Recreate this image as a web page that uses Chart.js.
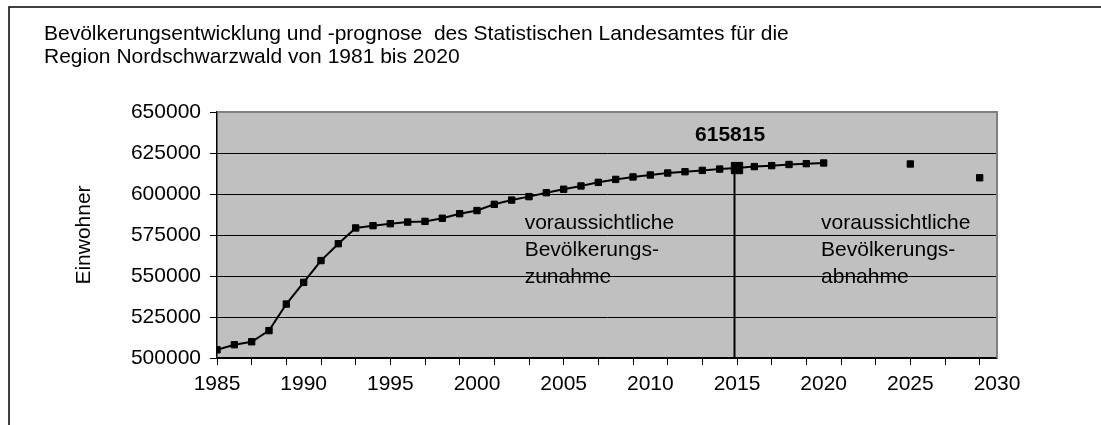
<!DOCTYPE html>
<html lang="de">
<head>
<meta charset="utf-8">
<title>Bevölkerungsentwicklung Nordschwarzwald</title>
<script src="https://cdn.jsdelivr.net/npm/chart.js@4.4.1/dist/chart.umd.min.js"></script>
<style>
    body { margin: 0; background: #fff; }
    #chart { display: block; }
</style>
</head>
<body>
<canvas id="chart" width="1101" height="425"></canvas>
<script>
// Einwohner Region Nordschwarzwald (1985-2020, jaehrlich)
const years = [1985, 1986, 1987, 1988, 1989, 1990, 1991, 1992, 1993, 1994,
    1995, 1996, 1997, 1998, 1999, 2000, 2001, 2002, 2003, 2004,
    2005, 2006, 2007, 2008, 2009, 2010, 2011, 2012, 2013, 2014,
    2015, 2016, 2017, 2018, 2019, 2020];
const residents = [505000, 508100, 509900, 516700, 532900, 546100, 559400, 569700, 579300, 580700,
    581900, 582900, 583300, 585200, 588000, 589900, 593700, 596300, 598400, 600800,
    602900, 604900, 607100, 608900, 610400, 611600, 612800, 613600, 614400, 615200,
    615815, 616700, 617300, 618000, 618500, 618900];

// einzelne Prognosewerte ohne Verbindungslinie
const forecastYears = [2025, 2029];
const forecastResidents = [618300, 609900];

const markedYear = 2015;
const markedValue = 615815;

const yTicks = [500000, 525000, 550000, 575000, 600000, 625000, 650000];
const xLabelStep = 5;

const titleLines = [
    'Bevölkerungsentwicklung und -prognose  des Statistischen Landesamtes für die',
    'Region Nordschwarzwald von 1981 bis 2020'
];
const noteLeft = ['voraussichtliche', 'Bevölkerungs-', 'zunahme'];
const noteRight = ['voraussichtliche', 'Bevölkerungs-', 'abnahme'];

const FONT = 'Arial, "Liberation Sans", sans-serif';

document.addEventListener('DOMContentLoaded', () => {
    drawChart();
});

function drawChart() {
    const mainPoints = years.map((y, i) => ({ x: y, y: residents[i] }));
    const forecastPoints = forecastYears.map((y, i) => ({ x: y, y: forecastResidents[i] }));

    // Hintergrund der Zeichenflaeche, Rahmen, Texte und Markierungslinie
    const decorations = {
        id: 'decorations',
        beforeDraw(chart) {
            const { ctx, chartArea: a } = chart;
            ctx.save();
            ctx.fillStyle = '#c0c0c0';
            ctx.fillRect(a.left, a.top, a.right - a.left, a.bottom - a.top);

            // aeusserer Rahmen (nur links und oben sichtbar)
            ctx.strokeStyle = '#000';
            ctx.lineWidth = 1.5;
            ctx.beginPath();
            ctx.moveTo(9, chart.height);
            ctx.lineTo(9, 7);
            ctx.lineTo(chart.width, 7);
            ctx.stroke();

            ctx.fillStyle = '#000';
            ctx.font = '21px ' + FONT;
            ctx.textAlign = 'left';
            ctx.textBaseline = 'alphabetic';
            ctx.fillText(titleLines[0], 44, 40);
            ctx.fillText(titleLines[1], 44, 63);
            ctx.restore();
        },
        afterDatasetsDraw(chart) {
            const { ctx, chartArea: a } = chart;
            const xs = chart.scales.x;
            const ys = chart.scales.y;
            ctx.save();

            // Rahmen oben und rechts
            ctx.strokeStyle = '#808080';
            ctx.lineWidth = 2;
            ctx.beginPath();
            ctx.moveTo(a.left, a.top);
            ctx.lineTo(a.right, a.top);
            ctx.lineTo(a.right, a.bottom);
            ctx.stroke();

            // senkrechte Linie beim Jahr 2015
            const mx = Math.round(xs.getPixelForValue(markedYear)) - 2.5;
            ctx.strokeStyle = '#000';
            ctx.lineWidth = 2;
            ctx.beginPath();
            ctx.moveTo(mx, ys.getPixelForValue(markedValue));
            ctx.lineTo(mx, a.bottom);
            ctx.stroke();

            ctx.fillStyle = '#000';
            ctx.font = 'bold 21px ' + FONT;
            ctx.textAlign = 'center';
            ctx.textBaseline = 'middle';
            ctx.fillText(String(markedValue), xs.getPixelForValue(2014.6), ys.getPixelForValue(636000));

            ctx.font = '21px ' + FONT;
            ctx.textAlign = 'left';
            const top = ys.getPixelForValue(582300);
            noteLeft.forEach((line, i) => {
                ctx.fillText(line, xs.getPixelForValue(2002.75), top + i * 27);
            });
            noteRight.forEach((line, i) => {
                ctx.fillText(line, xs.getPixelForValue(2019.85), top + i * 27);
            });
            ctx.restore();
        }
    };

    new Chart(document.getElementById('chart'), {
        type: 'line',
        data: {
            datasets: [
                {
                    label: 'Einwohner',
                    data: mainPoints,
                    borderColor: '#000',
                    backgroundColor: '#000',
                    borderWidth: 2,
                    pointStyle: 'rect',
                    pointRadius: ctx => (ctx.raw && ctx.raw.x === markedYear ? 8 : 4.5),
                    pointBorderWidth: 1,
                    tension: 0,
                    fill: false
                },
                {
                    label: 'Prognose',
                    data: forecastPoints,
                    showLine: false,
                    borderColor: '#000',
                    backgroundColor: '#000',
                    pointStyle: 'rect',
                    pointRadius: 4.5,
                    pointBorderWidth: 1
                }
            ]
        },
        options: {
            responsive: false,
            animation: false,
            layout: { padding: { top: 112, right: 104, left: 0, bottom: 0 } },
            plugins: {
                legend: { display: false },
                tooltip: { enabled: false }
            },
            scales: {
                x: {
                    type: 'linear',
                    min: 1985,
                    max: 2030,
                    afterFit: scale => { scale.height = 67; },
                    border: { color: '#000', width: 1.5 },
                    grid: {
                        drawOnChartArea: false,
                        drawTicks: true,
                        tickLength: 7,
                        tickColor: ctx => ((ctx.tick.value - 1985) % 2 === 0 ? '#000' : 'rgba(0,0,0,0)')
                    },
                    ticks: {
                        stepSize: 1,
                        autoSkip: false,
                        maxTicksLimit: 100,
                        maxRotation: 0,
                        minRotation: 0,
                        padding: 7,
                        color: '#000',
                        font: { family: FONT, size: 21 },
                        callback: v => (v % xLabelStep === 0 ? String(v) : '')
                    }
                },
                y: {
                    min: yTicks[0],
                    max: yTicks[yTicks.length - 1],
                    afterFit: scale => { scale.width = 217; },
                    afterBuildTicks: scale => { scale.ticks = yTicks.map(v => ({ value: v })); },
                    border: { color: '#000', width: 1.5 },
                    grid: {
                        color: ctx => (ctx.tick.value === yTicks[yTicks.length - 1] ? 'rgba(0,0,0,0)' : '#000'),
                        lineWidth: 1,
                        tickColor: '#000',
                        tickLength: 7
                    },
                    ticks: {
                        padding: 9,
                        color: '#000',
                        font: { family: FONT, size: 21 },
                        callback: v => String(v)
                    },
                    title: {
                        display: true,
                        text: 'Einwohner',
                        color: '#000',
                        font: { family: FONT, size: 21 },
                        padding: { top: 72, bottom: 0 }
                    }
                }
            }
        },
        plugins: [decorations]
    });
}
</script>
</body>
</html>
